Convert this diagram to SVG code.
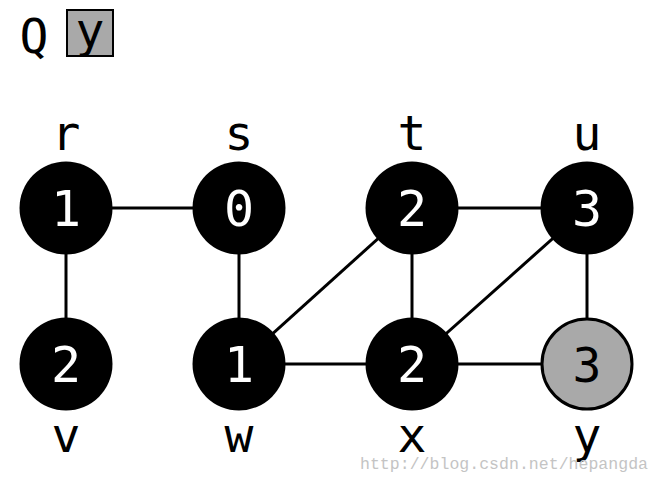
<svg xmlns="http://www.w3.org/2000/svg" width="661" height="484" viewBox="0 0 661 484">
<style>
.lbl{font-family:"DejaVu Sans Mono",monospace;font-size:48px;fill:#000;text-anchor:middle}
.num{font-family:"DejaVu Sans Mono",monospace;font-size:50px;fill:#fff;text-anchor:middle}
.blk{fill:#000}
.gry{fill:#a9a9a9;stroke:#000;stroke-width:3}
#edges line{stroke:#000;stroke-width:3}
</style>
<rect width="661" height="484" fill="#fff"/>
<g id="queue">
<text x="34" y="53" class="lbl">Q</text>
<rect x="67" y="10" width="46" height="46" fill="#a9a9a9" stroke="#000" stroke-width="2"/>
<text x="90" y="47" class="lbl">y</text>
</g>
<g id="edges">
<line x1="66" y1="208" x2="239" y2="208"/>
<line x1="66" y1="208" x2="66" y2="364"/>
<line x1="239" y1="208" x2="239" y2="364"/>
<line x1="239" y1="364" x2="412" y2="208"/>
<line x1="239" y1="364" x2="412" y2="364"/>
<line x1="412" y1="208" x2="412" y2="364"/>
<line x1="412" y1="208" x2="587" y2="208"/>
<line x1="412" y1="364" x2="587" y2="208"/>
<line x1="587" y1="208" x2="587" y2="364"/>
<line x1="412" y1="364" x2="587" y2="364"/>
</g>
<g id="r"><circle cx="66" cy="208" r="46.5" class="blk"/><text x="66" y="226" class="num">1</text><text x="66" y="150" class="lbl">r</text></g>
<g id="s"><circle cx="239" cy="208" r="46.5" class="blk"/><text x="239" y="226" class="num">0</text><text x="239" y="150" class="lbl">s</text></g>
<g id="t"><circle cx="412" cy="208" r="46.5" class="blk"/><text x="412" y="226" class="num">2</text><text x="412" y="150" class="lbl">t</text></g>
<g id="u"><circle cx="587" cy="208" r="46.5" class="blk"/><text x="587" y="226" class="num">3</text><text x="587" y="150" class="lbl">u</text></g>
<g id="v"><circle cx="66" cy="364" r="46.5" class="blk"/><text x="66" y="382" class="num">2</text><text x="66" y="452" class="lbl">v</text></g>
<g id="w"><circle cx="239" cy="364" r="46.5" class="blk"/><text x="239" y="382" class="num">1</text><text x="239" y="452" class="lbl">w</text></g>
<g id="x"><circle cx="412" cy="364" r="46.5" class="blk"/><text x="412" y="382" class="num">2</text><text x="412" y="452" class="lbl">x</text></g>
<g id="y"><circle cx="587" cy="364" r="45" class="gry"/><text x="587" y="382" class="lbl" font-size="50">3</text><text x="587" y="452" class="lbl">y</text></g>
<text x="360" y="469" font-family="Liberation Mono,monospace" font-size="16.5" fill="#c4c4c4" textLength="288">http://blog.csdn.net/hepangda</text>
</svg>
